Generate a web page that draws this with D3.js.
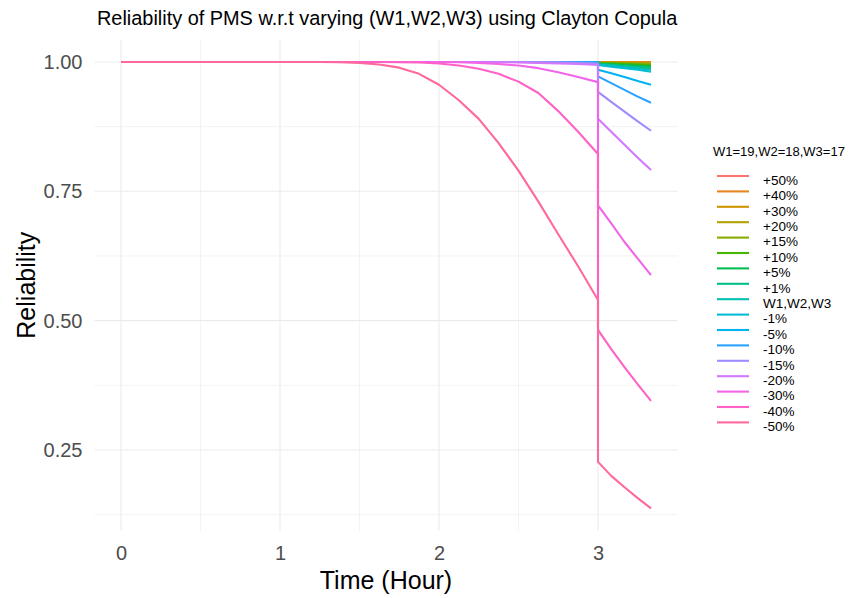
<!DOCTYPE html>
<html>
<head>
<meta charset="utf-8">
<script src="https://cdn.jsdelivr.net/npm/d3@7"></script>
<style>
  body { margin: 0; background: #fff; }
  svg { display: block; }
  text { font-family: "Liberation Sans", Arial, sans-serif; }
</style>
</head>
<body>
<svg id="chart" width="850" height="598"></svg>
<script>
// Variation levels applied to (W1, W2, W3)
const seriesLabels = ["+50%", "+40%", "+30%", "+20%", "+15%", "+10%", "+5%", "+1%", "W1,W2,W3",
                      "-1%", "-5%", "-10%", "-15%", "-20%", "-30%", "-40%", "-50%"];

// Time grid (hours) up to the switching instant at t = 3, and after it
const hoursBefore = [0, 0.5, 1, 1.25, 1.375, 1.5, 1.625, 1.75, 1.875, 2, 2.125, 2.25, 2.375, 2.5, 2.625, 2.75, 2.875, 3];
const hoursAfter = [3, 3.0833, 3.1667, 3.25, 3.3333];

// Reliability on the first phase, one row per variation level
const reliabilityBefore = [
  [1, 1, 1, 1, 1, 1, 1, 1, 1, 1, 1, 1, 1, 1, 1, 1, 1, 1],
  [1, 1, 1, 1, 1, 1, 1, 1, 1, 1, 1, 1, 1, 1, 1, 1, 1, 1],
  [1, 1, 1, 1, 1, 1, 1, 1, 1, 1, 1, 1, 1, 1, 1, 1, 1, 1],
  [1, 1, 1, 1, 1, 1, 1, 1, 1, 1, 1, 1, 1, 1, 1, 1, 1, 1],
  [1, 1, 1, 1, 1, 1, 1, 1, 1, 1, 1, 1, 1, 1, 1, 1, 1, 1],
  [1, 1, 1, 1, 1, 1, 1, 1, 1, 1, 1, 1, 1, 1, 1, 1, 1, 1],
  [1, 1, 1, 1, 1, 1, 1, 1, 1, 1, 1, 1, 1, 1, 1, 1, 1, 0.9999],
  [1, 1, 1, 1, 1, 1, 1, 1, 1, 1, 1, 1, 1, 1, 1, 1, 1, 0.9999],
  [1, 1, 1, 1, 1, 1, 1, 1, 1, 1, 1, 1, 1, 1, 1, 1, 0.9999, 0.9998],
  [1, 1, 1, 1, 1, 1, 1, 1, 1, 1, 1, 1, 1, 1, 1, 1, 0.9999, 0.9998],
  [1, 1, 1, 1, 1, 1, 1, 1, 1, 1, 1, 1, 1, 1, 1, 0.9999, 0.9998, 0.9996],
  [1, 1, 1, 1, 1, 1, 1, 1, 1, 1, 1, 1, 1, 1, 0.9999, 0.9998, 0.9995, 0.999],
  [1, 1, 1, 1, 1, 1, 1, 1, 1, 1, 1, 1, 1, 0.9999, 0.9997, 0.9993, 0.9985, 0.997],
  [1, 1, 1, 1, 1, 1, 1, 1, 1, 1, 1, 0.9999, 0.9997, 0.999, 0.998, 0.997, 0.996, 0.994],
  [1, 1, 1, 1, 1, 1, 1, 1, 1, 1, 0.9995, 0.998, 0.996, 0.993, 0.988, 0.98, 0.971, 0.961],
  [1, 1, 1, 1, 1, 1, 1, 0.9995, 0.999, 0.997, 0.993, 0.987, 0.977, 0.962, 0.94, 0.905, 0.865, 0.822],
  [1, 1, 1, 1, 0.9995, 0.998, 0.995, 0.989, 0.977, 0.956, 0.926, 0.89, 0.843, 0.79, 0.73, 0.667, 0.605, 0.54]
];

// Reliability on the second phase (after t = 3)
const reliabilityAfter = [
  [0.9999, 0.9999, 0.9998, 0.9998, 0.9997],
  [0.9998, 0.9997, 0.9996, 0.9995, 0.9993],
  [0.9995, 0.9993, 0.999, 0.9987, 0.9984],
  [0.999, 0.9985, 0.998, 0.9975, 0.997],
  [0.9985, 0.998, 0.9973, 0.9966, 0.996],
  [0.998, 0.997, 0.996, 0.995, 0.9935],
  [0.997, 0.9955, 0.994, 0.9925, 0.991],
  [0.996, 0.994, 0.992, 0.99, 0.988],
  [0.995, 0.9925, 0.99, 0.9875, 0.985],
  [0.994, 0.991, 0.988, 0.985, 0.981],
  [0.985, 0.978, 0.971, 0.963, 0.956],
  [0.972, 0.959, 0.946, 0.933, 0.921],
  [0.942, 0.923, 0.904, 0.885, 0.867],
  [0.89, 0.865, 0.84, 0.815, 0.791],
  [0.723, 0.688, 0.652, 0.62, 0.588],
  [0.482, 0.445, 0.41, 0.377, 0.345],
  [0.227, 0.2, 0.178, 0.157, 0.137]
];

const xTicks = [0, 1, 2, 3];
const xMinor = [0.5, 1.5, 2.5];
const yTicks = [0.25, 0.50, 0.75, 1.00];
const yMinor = [0.125, 0.375, 0.625, 0.875];

// Polar-LUV colour (as used by the default discrete hue palette)
function hclLuv(h, c, l) {
  const Xn = 95.047, Yn = 100, Zn = 108.883;
  const hr = h * Math.PI / 180;
  const U = c * Math.cos(hr), V = c * Math.sin(hr);
  const Y = Yn * (l > 7.999592 ? Math.pow((l + 16) / 116, 3) : l / 903.3);
  const t = Xn + Yn + Zn, x = Xn / t, y = Yn / t;
  const uN = 2 * x / (6 * y - x + 1.5), vN = 4.5 * y / (6 * y - x + 1.5);
  const u = U / (13 * l) + uN, v = V / (13 * l) + vN;
  const X = 9 * Y * u / (4 * v);
  const Z = -X / 3 - 5 * Y + 3 * Y / v;
  const gam = q => q <= 0.0031308 ? 12.92 * q : 1.055 * Math.pow(q, 1 / 2.4) - 0.055;
  const to255 = q => Math.round(255 * Math.max(0, Math.min(1, gam(q / 100))));
  const r = to255(3.240479 * X - 1.537150 * Y - 0.498535 * Z);
  const g = to255(-0.969256 * X + 1.875992 * Y + 0.041556 * Z);
  const b = to255(0.055648 * X - 0.204043 * Y + 1.057311 * Z);
  return d3.rgb(r, g, b).formatHex();
}
const n = seriesLabels.length;
const palette = seriesLabels.map((_, i) => hclLuv((15 + i * 360 / n) % 360, 100, 65));
const color = d3.scaleOrdinal().domain(seriesLabels).range(palette);

// Long-form rows per series: first phase, then the drop at t = 3, then second phase
const series = seriesLabels.map((label, i) => ({
  label,
  points: hoursBefore.map((t, j) => ({ t, r: reliabilityBefore[i][j] }))
    .concat(hoursAfter.map((t, j) => ({ t, r: reliabilityAfter[i][j] })))
}));

const svg = d3.select("#chart");
const panel = { left: 94.5, right: 677.5, top: 39.6, bottom: 530.8 };

const x = d3.scaleLinear().domain([-0.16667, 3.5]).range([panel.left, panel.right]);
const y = d3.scaleLinear().domain([0.0938, 1.0432]).range([panel.bottom, panel.top]);

// Grid
const grid = svg.append("g");
grid.selectAll(".ymin").data(yMinor).join("line")
  .attr("x1", panel.left).attr("x2", panel.right)
  .attr("y1", d => y(d)).attr("y2", d => y(d))
  .attr("stroke", "#EBEBEB").attr("stroke-width", 0.6);
grid.selectAll(".xmin").data(xMinor).join("line")
  .attr("y1", panel.top).attr("y2", panel.bottom)
  .attr("x1", d => x(d)).attr("x2", d => x(d))
  .attr("stroke", "#EBEBEB").attr("stroke-width", 0.6);
grid.selectAll(".ymaj").data(yTicks).join("line")
  .attr("x1", panel.left).attr("x2", panel.right)
  .attr("y1", d => y(d)).attr("y2", d => y(d))
  .attr("stroke", "#EBEBEB").attr("stroke-width", 1.1);
grid.selectAll(".xmaj").data(xTicks).join("line")
  .attr("y1", panel.top).attr("y2", panel.bottom)
  .attr("x1", d => x(d)).attr("x2", d => x(d))
  .attr("stroke", "#EBEBEB").attr("stroke-width", 1.1);

// Axes (labels only, no domain lines or tick marks)
const xAxis = svg.append("g").attr("transform", `translate(0,${panel.bottom})`)
  .call(d3.axisBottom(x).tickValues(xTicks).tickFormat(d3.format("d")).tickSize(0).tickPadding(15));
const yAxis = svg.append("g").attr("transform", `translate(${panel.left},0)`)
  .call(d3.axisLeft(y).tickValues(yTicks).tickFormat(d3.format(".2f")).tickSize(0).tickPadding(12));
[xAxis, yAxis].forEach(a => {
  a.select(".domain").remove();
  a.selectAll("text").attr("fill", "#4D4D4D").style("font-size", "20px")
    .style("font-family", "'Liberation Sans', Arial, sans-serif");
});

// Lines
const line = d3.line().x(d => x(d.t)).y(d => y(d.r));
svg.append("g").selectAll("path").data(series).join("path")
  .attr("d", d => line(d.points))
  .attr("fill", "none")
  .attr("stroke", d => color(d.label))
  .attr("stroke-width", 2.1)
  .attr("stroke-linejoin", "round");

// Titles
svg.append("text").attr("x", 97).attr("y", 25)
  .style("font-size", "19.9px").attr("fill", "#000")
  .text("Reliability of PMS w.r.t varying (W1,W2,W3) using Clayton Copula");
svg.append("text").attr("x", (panel.left + panel.right) / 2).attr("y", 589)
  .attr("text-anchor", "middle").style("font-size", "25px").attr("fill", "#000")
  .text("Time (Hour)");
svg.append("text")
  .attr("transform", `translate(35,${(panel.top + panel.bottom) / 2}) rotate(-90)`)
  .attr("text-anchor", "middle").style("font-size", "25px").attr("fill", "#000")
  .text("Reliability");

// Legend
const legend = svg.append("g");
legend.append("text").attr("x", 713).attr("y", 155.5)
  .style("font-size", "13px").attr("fill", "#000").text("W1=19,W2=18,W3=17");
const keyY = i => 176 + i * 15.4;
legend.selectAll("line").data(seriesLabels).join("line")
  .attr("x1", 717).attr("x2", 749)
  .attr("y1", (d, i) => keyY(i)).attr("y2", (d, i) => keyY(i))
  .attr("stroke", d => color(d)).attr("stroke-width", 2.1);
legend.selectAll(".lab").data(seriesLabels).join("text")
  .attr("x", 763).attr("y", (d, i) => keyY(i) + 8.8)
  .style("font-size", "13.5px").attr("fill", "#000").text(d => d);
</script>
</body>
</html>
